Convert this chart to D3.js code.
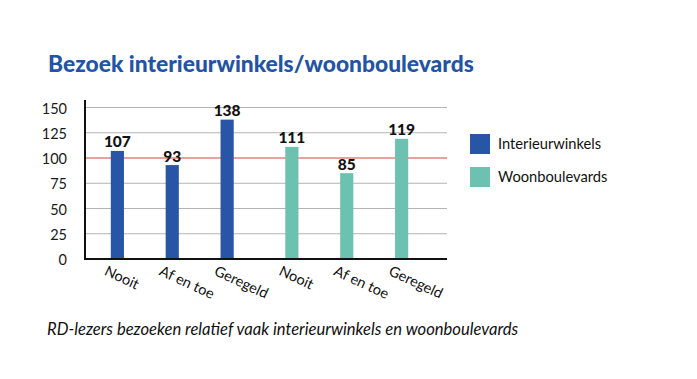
<!DOCTYPE html>
<html>
<head>
<meta charset="utf-8">
<script src="https://cdn.jsdelivr.net/npm/d3@7"></script>
<style>
  html, body { margin: 0; padding: 0; background: #fff; }
  svg { display: block; font-family: 'Lato', 'Noto Sans', sans-serif; }
</style>
</head>
<body>
<div id="chart"></div>
<script>
const series = ['Interieurwinkels', 'Woonboulevards'];
const categories = ['Nooit', 'Af en toe', 'Geregeld'];
const interieurValues = [107, 93, 138];
const woonValues = [111, 85, 119];
const yTicks = [0, 25, 50, 75, 100, 125, 150];
const seriesColors = ['#2855a5', '#6cc1b1'];

const width = 697, height = 379;
const plot = { left: 85, right: 447, top: 100, bottom: 259 };

const rows = series.map((s, i) => ({
    series: s,
    color: seriesColors[i],
    values: (i === 0 ? interieurValues : woonValues).map((v, j) => ({ cat: categories[j], value: v }))
}));

const svg = d3.select('#chart').append('svg')
    .attr('width', width).attr('height', height);

// title
svg.append('text')
    .attr('x', 48).attr('y', 72)
    .attr('fill', '#2354a4')
    .attr('font-size', 22.8).attr('font-weight', 900)
    .text('Bezoek interieurwinkels/woonboulevards');

const y = d3.scaleLinear().domain([0, 150]).range([plot.bottom, 107.5]);

const x0 = d3.scaleBand().domain(series).range([plot.left, 434]);
const x1 = d3.scaleBand().domain(categories)
    .range([0, x0.bandwidth()])
    .paddingInner(0.76).paddingOuter(0.47);

// grid
svg.append('g').selectAll('line')
    .data(yTicks.filter(t => t > 0)).enter().append('line')
    .attr('x1', plot.left).attr('x2', plot.right)
    .attr('y1', d => y(d)).attr('y2', d => y(d))
    .attr('stroke', d => d === 100 ? '#d0463c' : '#b4b4b4')
    .attr('stroke-width', 1);

// y tick labels
svg.append('g').selectAll('text')
    .data(yTicks).enter().append('text')
    .attr('x', 67).attr('y', d => y(d) + 1)
    .attr('dy', '0.35em')
    .attr('text-anchor', 'end')
    .attr('font-size', 14.5).attr('fill', '#1a1a1a')
    .text(d => d);

// bars
const groups = svg.append('g').selectAll('g')
    .data(rows).enter().append('g')
    .attr('transform', d => `translate(${x0(d.series)},0)`);

groups.selectAll('rect')
    .data(d => d.values.map(v => ({ ...v, color: d.color })))
    .enter().append('rect')
    .attr('x', d => x1(d.cat))
    .attr('width', x1.bandwidth())
    .attr('y', d => y(d.value))
    .attr('height', d => y(0) - y(d.value))
    .attr('fill', d => d.color);

groups.selectAll('text.val')
    .data(d => d.values)
    .enter().append('text')
    .attr('class', 'val')
    .attr('x', d => x1(d.cat) + x1.bandwidth() / 2)
    .attr('y', d => y(d.value) - 3.5)
    .attr('text-anchor', 'middle')
    .attr('font-size', 15.5).attr('font-weight', 900)
    .attr('fill', '#111')
    .text(d => d.value);

groups.selectAll('text.cat')
    .data(d => d.values)
    .enter().append('text')
    .attr('class', 'cat')
    .attr('transform', d => `translate(${x1(d.cat) + x1.bandwidth() / 2 - 9},${plot.bottom + 5}) rotate(25)`)
    .attr('dy', '0.8em')
    .attr('font-size', 14.5).attr('fill', '#111')
    .text(d => d.cat);

// axes lines
svg.append('line')
    .attr('x1', plot.left).attr('x2', plot.left)
    .attr('y1', plot.top).attr('y2', plot.bottom + 1)
    .attr('stroke', '#111').attr('stroke-width', 2);
svg.append('line')
    .attr('x1', plot.left - 1).attr('x2', plot.right)
    .attr('y1', plot.bottom).attr('y2', plot.bottom)
    .attr('stroke', '#111').attr('stroke-width', 2);

// legend
const legend = svg.append('g').selectAll('g')
    .data(rows).enter().append('g')
    .attr('transform', (d, i) => `translate(470,${134 + i * 33})`);
legend.append('rect')
    .attr('width', 20).attr('height', 20)
    .attr('fill', d => d.color);
legend.append('text')
    .attr('x', 28).attr('y', 10).attr('dy', '0.35em')
    .attr('font-size', 14.7).attr('fill', '#111')
    .text(d => d.series);

// subtitle
svg.append('text')
    .attr('x', 47).attr('y', 335)
    .attr('font-size', 16.6).attr('font-style', 'italic')
    .attr('fill', '#111')
    .text('RD-lezers bezoeken relatief vaak interieurwinkels en woonboulevards');
</script>
</body>
</html>
